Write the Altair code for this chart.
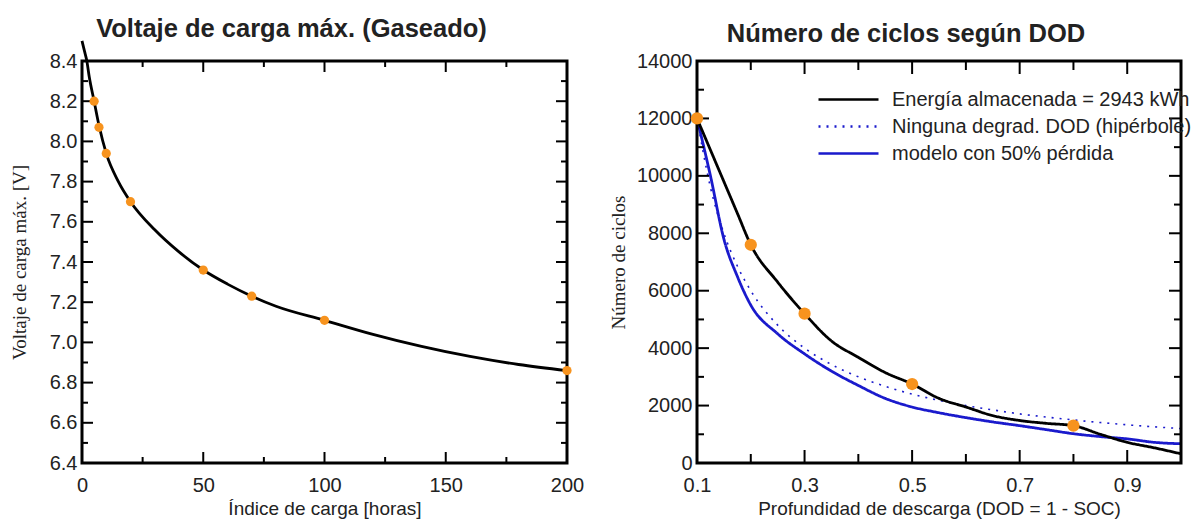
import altair as alt
import pandas as pd

# ---------------- Left panel data ----------------
carga_horas = [0, 1, 2, 3, 5, 7, 10, 15, 20, 30, 40, 50, 60, 70, 80, 100, 120, 140, 160, 180, 200]
voltaje_max = [8.50, 8.45, 8.40, 8.32, 8.20, 8.08, 7.94, 7.80, 7.70, 7.56, 7.45, 7.36, 7.29, 7.23,
               7.18, 7.11, 7.04, 6.98, 6.93, 6.89, 6.86]
puntos_horas = [5, 7, 10, 20, 50, 70, 100, 200]
puntos_voltaje = [8.20, 8.07, 7.94, 7.70, 7.36, 7.23, 7.11, 6.86]

x_major_left = [0, 50, 100, 150, 200]
x_minor_left = [25, 75, 125, 175]
y_major_left = [6.4, 6.6, 6.8, 7.0, 7.2, 7.4, 7.6, 7.8, 8.0, 8.2, 8.4]
y_minor_left = [6.5, 6.7, 6.9, 7.1, 7.3, 7.5, 7.7, 7.9, 8.1, 8.3]

# ---------------- Right panel data ----------------
dod = [0.1, 0.125, 0.15, 0.175, 0.2, 0.25, 0.3, 0.35, 0.4, 0.45, 0.5, 0.55, 0.6, 0.65, 0.7,
       0.75, 0.8, 0.85, 0.9, 0.95, 1.0]
ciclos_energia = [12000, 10900, 9800, 8700, 7600, 6300, 5200, 4250, 3680, 3150, 2750, 2250, 1950,
                  1650, 1480, 1380, 1300, 1000, 720, 530, 320]
ciclos_hiperbola = [12000, 9600, 8000, 6860, 6000, 4800, 4000, 3430, 3000, 2670, 2400, 2180, 2000,
                    1850, 1710, 1600, 1500, 1410, 1330, 1260, 1200]
ciclos_modelo = [12000, 10000, 7800, 6500, 5500, 4500, 3800, 3200, 2700, 2250, 1950, 1750, 1580,
                 1430, 1300, 1160, 1020, 920, 840, 720, 670]
series_names = ["Energía almacenada = 2943 kWh", "Ninguna degrad. DOD (hipérbole)",
                "modelo con 50% pérdida"]
puntos_dod = [0.1, 0.2, 0.3, 0.5, 0.8]
puntos_ciclos = [12000, 7600, 5200, 2750, 1300]

x_major_right = [0.1, 0.3, 0.5, 0.7, 0.9]
x_minor_right = [0.2, 0.4, 0.6, 0.8, 1.0]
y_major_right = [0, 2000, 4000, 6000, 8000, 10000, 12000, 14000]
y_minor_right = [1000, 3000, 5000, 7000, 9000, 11000, 13000]

# ---------------- Styling ----------------
W1, W2, H = 485, 484, 402
SANS = "Liberation Sans"
SERIF = "Liberation Serif"
TXT = "#222222"
ORANGE = "#f7931e"
BLUE = "#1a1acc"

df_line_l = pd.DataFrame({"h": carga_horas, "v": voltaje_max})
df_pts_l = pd.DataFrame({"h": puntos_horas, "v": puntos_voltaje})

rows = []
for name, vals in zip(series_names, [ciclos_energia, ciclos_hiperbola, ciclos_modelo]):
    for d, c in zip(dod, vals):
        rows.append({"dod": d, "ciclos": c, "serie": name})
df_line_r = pd.DataFrame(rows)
df_pts_r = pd.DataFrame({"dod": puntos_dod, "ciclos": puntos_ciclos})


def tick_rules(xscale, yscale, W, xmaj, xmin, ymaj, ymin, xl, yl):
    """Inward ticks on all four edges, positioned through the scales."""
    out = []
    for vals, L in ((xmaj, xl[0]), (xmin, xl[1])):
        d = pd.DataFrame({"t": vals})
        base = alt.Chart(d).mark_rule(color="black", strokeWidth=2)
        out.append(base.encode(x=alt.X("t:Q", scale=xscale, axis=None),
                               y=alt.value(H), y2=alt.value(H - L)))
        out.append(base.encode(x=alt.X("t:Q", scale=xscale, axis=None),
                               y=alt.value(0), y2=alt.value(L)))
    for vals, L in ((ymaj, yl[0]), (ymin, yl[1])):
        d = pd.DataFrame({"t": vals})
        base = alt.Chart(d).mark_rule(color="black", strokeWidth=2)
        out.append(base.encode(y=alt.Y("t:Q", scale=yscale, axis=None),
                               x=alt.value(0), x2=alt.value(L)))
        out.append(base.encode(y=alt.Y("t:Q", scale=yscale, axis=None),
                               x=alt.value(W), x2=alt.value(W - L)))
    return out


def frame(W):
    return alt.Chart(pd.DataFrame({"f": [0]})).mark_rect(
        filled=False, stroke="black", strokeWidth=3, fillOpacity=0
    ).encode(x=alt.value(0), x2=alt.value(W), y=alt.value(0), y2=alt.value(H))


def label_axis_x(values, title, fmt):
    return alt.Axis(orient="bottom", values=values, format=fmt, ticks=False, tickSize=0,
                    domain=False, grid=False, labelPadding=12, labelFontSize=20,
                    labelFont=SANS, labelColor=TXT, title=title, titleFont=SANS,
                    titleFontSize=19, titleFontWeight="normal", titleColor=TXT,
                    titlePadding=4, labelFlush=False)


def label_axis_y(values, title, fmt, tpad):
    return alt.Axis(orient="left", values=values, format=fmt, ticks=False, tickSize=0,
                    domain=False, grid=False, labelPadding=5, labelFontSize=20,
                    labelFont=SANS, labelColor=TXT, title=title, titleFont=SERIF,
                    titleFontSize=19, titleFontWeight="normal", titleColor=TXT,
                    titlePadding=tpad, labelFlush=False)


# ---------------- Left panel ----------------
xs_l = alt.Scale(domain=[0, 200], nice=False, zero=False)
ys_l = alt.Scale(domain=[6.4, 8.4], nice=False, zero=False)

line_l = alt.Chart(df_line_l).mark_line(color="black", strokeWidth=2.8, interpolate="monotone").encode(
    x=alt.X("h:Q", scale=xs_l, axis=label_axis_x(x_major_left, "Índice de carga [horas]", "d")),
    y=alt.Y("v:Q", scale=ys_l, axis=label_axis_y(y_major_left, "Voltaje de carga máx. [V]", ".1f", 20)),
)
pts_l = alt.Chart(df_pts_l).mark_circle(color=ORANGE, size=85, opacity=1).encode(
    x=alt.X("h:Q", scale=xs_l, axis=None),
    y=alt.Y("v:Q", scale=ys_l, axis=None),
)
left = alt.layer(
    line_l,
    *tick_rules(xs_l, ys_l, W1, x_major_left, x_minor_left, y_major_left, y_minor_left,
                (11, 6), (11, 6)),
    frame(W1),
    pts_l,
).resolve_axis(x="independent", y="independent").properties(
    width=W1, height=H,
    title=alt.TitleParams("Voltaje de carga máx. (Gaseado)", font=SANS, fontSize=25.5,
                          fontWeight="bold", color=TXT, anchor="middle", dx=-33, offset=-7),
)

# ---------------- Right panel ----------------
xs_r = alt.Scale(domain=[0.1, 1.0], nice=False, zero=False)
ys_r = alt.Scale(domain=[0, 14000], nice=False, zero=False)

leg = alt.Legend(orient="none", legendX=140, legendY=27, title=None, symbolType="M-3,0H3",
                 symbolSize=400, symbolStrokeWidth=2.5, labelFontSize=20, labelFont=SANS,
                 labelColor=TXT, labelLimit=600, labelOffset=32, rowPadding=5, padding=0)

color_enc = alt.Color("serie:N", scale=alt.Scale(domain=series_names, range=["#000000", BLUE, BLUE]),
                      legend=leg)
dash_enc = alt.StrokeDash("serie:N", scale=alt.Scale(domain=series_names,
                                                     range=[[1, 0], [2, 6], [1, 0]]), legend=leg)


def series_line(name, width, with_axes):
    if with_axes:
        xe = alt.X("dod:Q", scale=xs_r,
                   axis=label_axis_x(x_major_right, "Profundidad de descarga (DOD = 1 - SOC)", ".1f"))
        ye = alt.Y("ciclos:Q", scale=ys_r, axis=label_axis_y(y_major_right, "Número de ciclos", "d", 8))
    else:
        xe = alt.X("dod:Q", scale=xs_r, axis=None)
        ye = alt.Y("ciclos:Q", scale=ys_r, axis=None)
    return alt.Chart(df_line_r).transform_filter(alt.datum.serie == name).mark_line(
        interpolate="monotone", strokeWidth=width
    ).encode(x=xe, y=ye, color=color_enc, strokeDash=dash_enc, order=alt.Order("dod:Q"))


pts_r = alt.Chart(df_pts_r).mark_circle(color=ORANGE, size=150, opacity=1).encode(
    x=alt.X("dod:Q", scale=xs_r, axis=None),
    y=alt.Y("ciclos:Q", scale=ys_r, axis=None),
)
right = alt.layer(
    series_line(series_names[2], 2.8, True),
    series_line(series_names[1], 1.6, False),
    series_line(series_names[0], 2.8, False),
    *tick_rules(xs_r, ys_r, W2, x_major_right, x_minor_right, y_major_right, y_minor_right,
                (13, 9), (12, 7)),
    frame(W2),
    pts_r,
).resolve_axis(x="independent", y="independent").properties(
    width=W2, height=H,
    title=alt.TitleParams("Número de ciclos según DOD", font=SANS, fontSize=25.5,
                          fontWeight="bold", color=TXT, anchor="middle", dx=-33, offset=4),
)

chart = alt.hconcat(left, right, spacing=25).resolve_scale(
    color="independent", strokeDash="independent"
).properties(
    padding={"left": 10, "top": 16, "right": 5, "bottom": 5},
    background="white",
).configure_view(stroke=None)

chart.save("out.html", embed_options={"renderer": "svg", "actions": False})
